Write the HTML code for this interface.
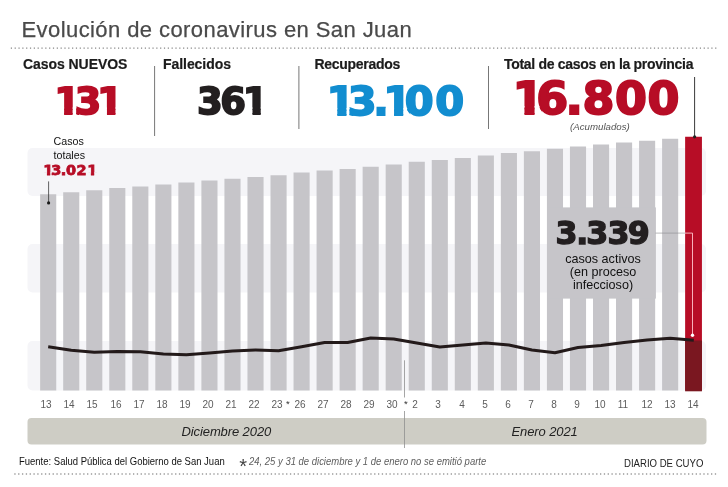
<!DOCTYPE html>
<html lang="es"><head><meta charset="utf-8"><title>Evolución de coronavirus en San Juan</title>
<style>
html,body{margin:0;padding:0;background:#fff;}
body{width:728px;height:487px;overflow:hidden;position:relative;font-family:"Liberation Sans",sans-serif;}
#c{position:absolute;left:0;top:0;width:728px;height:487px;overflow:hidden;background:#fff;}
svg{position:absolute;left:0;top:0;}
.t{position:absolute;white-space:nowrap;line-height:1;transform-origin:0 0;}
.lb{position:absolute;top:399px;width:30px;text-align:center;font-size:11px;line-height:11px;color:#5c5c5c;transform:scaleX(0.91);}
.h{font-weight:bold;font-size:14px;color:#1c1c1c;-webkit-text-stroke:0.2px #1c1c1c;}
.big{font-family:"DejaVu Sans","Liberation Sans",sans-serif;font-weight:bold;}
</style></head><body><div id="c">
<svg width="728" height="487" viewBox="0 0 728 487">
<defs><clipPath id="cp-n1"><path clip-rule="evenodd" d="M0 0H728V487H0ZM64.11 107.56L56.23 107.56L56.23 116.80L64.11 116.80ZM72.59 107.56L76.28 107.56L76.28 108.72L76.28 109.87L76.28 111.03L76.28 112.18L76.28 113.34L76.36 114.49L80.47 115.65L80.47 116.80L72.59 116.80ZM106.96 107.56L99.08 107.56L99.08 108.72L99.08 109.87L99.08 111.03L99.08 112.18L99.08 113.34L99.08 114.49L99.08 115.65L99.08 116.80L106.96 116.80ZM115.44 107.56L123.32 107.56L123.32 116.80L115.44 116.80Z"/></clipPath><clipPath id="cp-n2"><path clip-rule="evenodd" d="M0 0H728V487H0ZM252.49 107.56L244.90 107.56L244.80 108.72L244.80 109.87L244.80 111.03L244.80 112.18L244.80 113.34L244.80 114.49L244.80 115.65L244.80 116.80L252.49 116.80ZM260.71 107.56L268.40 107.56L268.40 116.80L260.71 116.80Z"/></clipPath><clipPath id="cp-n3"><path clip-rule="evenodd" d="M0 0H728V487H0ZM337.30 108.27L328.86 108.27L328.86 117.70L337.30 117.70ZM346.48 108.27L349.50 108.27L349.50 109.45L349.50 110.63L349.50 111.81L349.50 112.98L349.50 114.16L349.53 115.34L354.92 116.52L354.92 117.70L346.48 117.70ZM394.05 108.27L385.65 108.27L385.65 109.45L385.65 110.63L385.65 111.81L385.65 112.98L385.65 114.16L385.65 115.34L385.61 116.52L385.61 117.70L394.05 117.70ZM403.23 108.27L406.69 108.27L407.09 109.45L407.62 110.63L408.30 111.81L409.19 112.98L410.39 114.16L411.67 115.34L411.67 116.52L411.67 117.70L403.23 117.70Z"/></clipPath><clipPath id="cp-n4"><path clip-rule="evenodd" d="M0 0H728V487H0ZM524.46 105.96L515.29 105.96L515.29 116.30L524.46 116.30ZM534.56 105.96L539.03 105.96L539.47 107.25L540.04 108.54L540.77 109.84L541.70 111.13L542.97 112.42L543.73 113.71L543.73 115.01L543.73 116.30L534.56 116.30Z"/></clipPath><clipPath id="cp-n5"><path clip-rule="evenodd" d="M0 0H728V487H0ZM46.94 172.23L42.99 172.23L42.99 177.40L46.94 177.40ZM50.22 172.23L54.18 172.23L51.72 172.88L51.72 173.52L51.72 174.17L51.72 174.81L51.72 175.46L54.18 176.11L54.18 176.75L54.18 177.40L50.22 177.40ZM90.89 172.23L86.94 172.23L86.94 172.88L86.94 173.52L86.94 174.17L86.94 174.81L86.94 175.46L86.94 176.11L86.94 176.75L86.94 177.40L90.89 177.40ZM94.17 172.23L98.13 172.23L98.13 177.40L94.17 177.40Z"/></clipPath><clipPath id="cp-n6"><path clip-rule="evenodd" d="M0 0H728V487H0Z"/></clipPath></defs>
<rect x="27.5" y="148" width="678.5" height="48" rx="5" ry="5" fill="#f5f5f8"/>
<rect x="27.5" y="244" width="678.5" height="48.5" rx="5" ry="5" fill="#f5f5f8"/>
<rect x="27.5" y="341" width="678.5" height="49.5" rx="5" ry="5" fill="#f5f5f8"/>
<rect x="40.15" y="194.25" width="16.1" height="196.25" fill="#c6c5c9"/>
<rect x="63.19" y="192.25" width="16.1" height="198.25" fill="#c6c5c9"/>
<rect x="86.22" y="190.25" width="16.1" height="200.25" fill="#c6c5c9"/>
<rect x="109.25" y="188" width="16.1" height="202.50" fill="#c6c5c9"/>
<rect x="132.29" y="186.5" width="16.1" height="204.00" fill="#c6c5c9"/>
<rect x="155.32" y="184.5" width="16.1" height="206.00" fill="#c6c5c9"/>
<rect x="178.36" y="182.5" width="16.1" height="208.00" fill="#c6c5c9"/>
<rect x="201.40" y="180.5" width="16.1" height="210.00" fill="#c6c5c9"/>
<rect x="224.43" y="178.75" width="16.1" height="211.75" fill="#c6c5c9"/>
<rect x="247.47" y="177" width="16.1" height="213.50" fill="#c6c5c9"/>
<rect x="270.50" y="175.25" width="16.1" height="215.25" fill="#c6c5c9"/>
<rect x="293.53" y="172.5" width="16.1" height="218.00" fill="#c6c5c9"/>
<rect x="316.57" y="170.5" width="16.1" height="220.00" fill="#c6c5c9"/>
<rect x="339.60" y="169" width="16.1" height="221.50" fill="#c6c5c9"/>
<rect x="362.64" y="166.75" width="16.1" height="223.75" fill="#c6c5c9"/>
<rect x="385.67" y="164.5" width="16.1" height="226.00" fill="#c6c5c9"/>
<rect x="408.71" y="161.75" width="16.1" height="228.75" fill="#c6c5c9"/>
<rect x="431.75" y="160" width="16.1" height="230.50" fill="#c6c5c9"/>
<rect x="454.78" y="158" width="16.1" height="232.50" fill="#c6c5c9"/>
<rect x="477.81" y="155.5" width="16.1" height="235.00" fill="#c6c5c9"/>
<rect x="500.85" y="153" width="16.1" height="237.50" fill="#c6c5c9"/>
<rect x="523.88" y="151.25" width="16.1" height="239.25" fill="#c6c5c9"/>
<rect x="546.92" y="148.75" width="16.1" height="241.75" fill="#c6c5c9"/>
<rect x="569.95" y="146.5" width="16.1" height="244.00" fill="#c6c5c9"/>
<rect x="592.99" y="144.5" width="16.1" height="246.00" fill="#c6c5c9"/>
<rect x="616.02" y="142.5" width="16.1" height="248.00" fill="#c6c5c9"/>
<rect x="639.06" y="140.75" width="16.1" height="249.75" fill="#c6c5c9"/>
<rect x="662.10" y="138.75" width="16.1" height="251.75" fill="#c6c5c9"/>
<rect x="685.13" y="136.75" width="16.8" height="253.75" fill="#b70d26"/>
<rect x="685.13" y="340.5" width="16.8" height="50.80" fill="#7a1720"/>
<rect x="547.3" y="207.4" width="108.6" height="91.2" fill="#c6c5c9"/>
<path d="M655.5 233.1 H685.2" stroke="#8a8a8e" stroke-width="0.6" fill="none"/>
<path d="M685 233.1 H692.5 V335" stroke="#ffc4cc" stroke-width="0.9" fill="none"/>
<circle cx="692.5" cy="335.3" r="1.7" fill="#fff"/>
<path d="M48.20 346.75 L71.23 350.25 L94.27 352.25 L117.31 351.50 L140.34 351.75 L163.38 354.00 L186.41 354.75 L209.44 353.00 L232.48 351.00 L255.51 350.00 L278.55 350.75 L301.58 346.75 L324.62 342.50 L347.65 342.50 L370.69 338.00 L393.72 339.00 L416.76 343.00 L439.80 347.00 L462.83 345.00 L485.87 343.00 L508.90 345.00 L531.94 350.00 L554.97 352.75 L578.00 347.50 L601.04 345.50 L624.08 342.50 L647.11 340.00 L670.15 338.25 L693.80 340.30" stroke="#231a1a" stroke-width="3" fill="none" stroke-linejoin="round" stroke-linecap="butt"/>
<path d="M48.6 181.4 V202.5" stroke="#222" stroke-width="0.7" fill="none"/>
<circle cx="48.6" cy="202.9" r="1.6" fill="#1a1a1a"/>
<path d="M694.6 77 V137" stroke="#222" stroke-width="0.9" fill="none"/>
<circle cx="694.6" cy="136.8" r="1.6" fill="#222"/>
<path d="M154.6 66 V136" stroke="#777" stroke-width="1" fill="none"/>
<path d="M298.9 66 V129" stroke="#777" stroke-width="1" fill="none"/>
<path d="M488.5 66 V129" stroke="#777" stroke-width="1" fill="none"/>
<path d="M10.8 48.2 H716.5" stroke="#858585" stroke-width="1.2" stroke-dasharray="1.2 2.628" fill="none"/>
<path d="M14.3 474 H716.5" stroke="#9a9a9a" stroke-width="1.3" stroke-dasharray="1.3 2.528" fill="none"/>
<rect x="27.5" y="418" width="679" height="26.6" rx="4" ry="4" fill="#cecdc5"/>
<path d="M404.5 360.3 V397.5 M404.5 411 V448" stroke="#8f8f8f" stroke-width="0.8" fill="none"/>
<g clip-path="url(#cp-n1)"><text id="n1" class="big" transform="scale(1.0032,1)" x="53.99 74.40 96.71" y="114.40" font-size="38.00" fill="#b70d26" stroke="#b70d26" stroke-width="1.8" stroke-linejoin="miter">131</text></g>
<g clip-path="url(#cp-n2)"><text id="n2" class="big" transform="scale(0.9734,1)" x="202.40 226.40 249.48" y="114.40" font-size="38.00" fill="#231f20" stroke="#231f20" stroke-width="1.8" stroke-linejoin="miter">361</text></g>
<g clip-path="url(#cp-n3)"><text id="n3" class="big" transform="scale(1.0512,1)" x="310.53 330.73 354.98 364.52 385.08 414.09" y="115.30" font-size="39.51" fill="#128dd0" stroke="#128dd0" stroke-width="1.8" stroke-linejoin="miter">13.100</text></g>
<g clip-path="url(#cp-n4)"><text id="n4" class="big" transform="scale(1.0200,1)" x="502.37 525.76 554.43 571.02 602.96 634.72" y="113.80" font-size="44.99" fill="#b70d26" stroke="#b70d26" stroke-width="2.0" stroke-linejoin="miter">16.800</text></g>
<g clip-path="url(#cp-n5)"><text id="n5" class="big" transform="scale(1.0058,1)" x="42.95 50.86 60.30 65.68 76.18 86.65" y="175.50" font-size="14.40" fill="#b70d26" stroke="#b70d26" stroke-width="0.8" stroke-linejoin="miter">13.021</text></g>
<g clip-path="url(#cp-n6)"><text id="n6" class="big" transform="scale(0.9929,1)" x="559.58 580.27 590.55 611.80 632.29" y="244.30" font-size="31.82" fill="#231f20" stroke="#231f20" stroke-width="1.4" stroke-linejoin="miter">3.339</text></g>
</svg>
<div class="t" id="title" style="left:21.5px;top:19px;font-size:22px;letter-spacing:0.42px;color:#4a4a4a;-webkit-text-stroke:0.25px #4a4a4a;">Evolución de coronavirus en San Juan</div>
<div class="t h" id="h1" style="left:23px;top:57.4px;letter-spacing:-0.06px;">Casos NUEVOS</div>
<div class="t h" id="h2" style="left:163px;top:57.4px;letter-spacing:-0.06px;">Fallecidos</div>
<div class="t h" id="h3" style="left:314.5px;top:57.4px;letter-spacing:-0.3px;">Recuperados</div>
<div class="t h" id="h4" style="left:504px;top:57.4px;letter-spacing:-0.3px;">Total de casos en la provincia</div>
<div class="t" id="acum" style="left:570px;top:121.6px;font-size:9.7px;font-style:italic;color:#555;">(Acumulados)</div>
<div class="t" id="ct" style="left:53.5px;top:133.7px;font-size:10.7px;line-height:14.6px;color:#111;">Casos<br>totales</div>
<div class="t" id="act" style="left:553px;top:253px;width:100px;text-align:center;font-size:12.6px;line-height:13.2px;color:#111;white-space:normal;">casos activos<br>(en proceso<br>infeccioso)</div>
<div class="lb" style="left:31.30px">13</div>
<div class="lb" style="left:54.37px">14</div>
<div class="lb" style="left:77.44px">15</div>
<div class="lb" style="left:100.51px">16</div>
<div class="lb" style="left:123.58px">17</div>
<div class="lb" style="left:146.65px">18</div>
<div class="lb" style="left:169.72px">19</div>
<div class="lb" style="left:192.79px">20</div>
<div class="lb" style="left:215.86px">21</div>
<div class="lb" style="left:238.93px">22</div>
<div class="lb" style="left:262.00px">23</div>
<div class="lb" style="left:285.07px">26</div>
<div class="lb" style="left:308.14px">27</div>
<div class="lb" style="left:331.21px">28</div>
<div class="lb" style="left:354.28px">29</div>
<div class="lb" style="left:377.35px">30</div>
<div class="lb" style="left:400.42px">2</div>
<div class="lb" style="left:423.49px">3</div>
<div class="lb" style="left:446.56px">4</div>
<div class="lb" style="left:469.63px">5</div>
<div class="lb" style="left:492.70px">6</div>
<div class="lb" style="left:515.85px">7</div>
<div class="lb" style="left:539.00px">8</div>
<div class="lb" style="left:562.15px">9</div>
<div class="lb" style="left:585.30px">10</div>
<div class="lb" style="left:608.45px">11</div>
<div class="lb" style="left:631.60px">12</div>
<div class="lb" style="left:654.75px">13</div>
<div class="lb" style="left:677.90px">14</div>
<div class="t" id="ast1" style="left:286.1px;top:399.4px;font-size:9.5px;color:#333;">*</div>
<div class="t" id="ast2" style="left:403.9px;top:399.4px;font-size:9.5px;color:#333;">*</div>
<div class="t" id="m1" style="left:181.5px;top:424.5px;font-size:13px;letter-spacing:-0.1px;font-style:italic;color:#222;">Diciembre 2020</div>
<div class="t" id="m2" style="left:511.5px;top:424.5px;font-size:13px;letter-spacing:-0.1px;font-style:italic;color:#222;">Enero 2021</div>
<div class="t" id="src" style="left:19.2px;top:457.4px;font-size:10.4px;color:#111;transform:scaleX(0.913);">Fuente: Salud Pública del Gobierno de San Juan</div>
<div class="t" id="star" style="left:239.2px;top:456.2px;font-size:20px;color:#444;">*</div>
<div class="t" id="note" style="left:249.3px;top:457px;font-size:10.3px;font-style:italic;color:#5e5e5e;transform:scaleX(0.921);">24, 25 y 31 de diciembre y 1 de enero no se emitió parte</div>
<div class="t" id="ddc" style="left:624.3px;top:459.2px;font-size:10.1px;color:#222;transform:scaleX(0.95);">DIARIO DE CUYO</div>
</div></body></html>
